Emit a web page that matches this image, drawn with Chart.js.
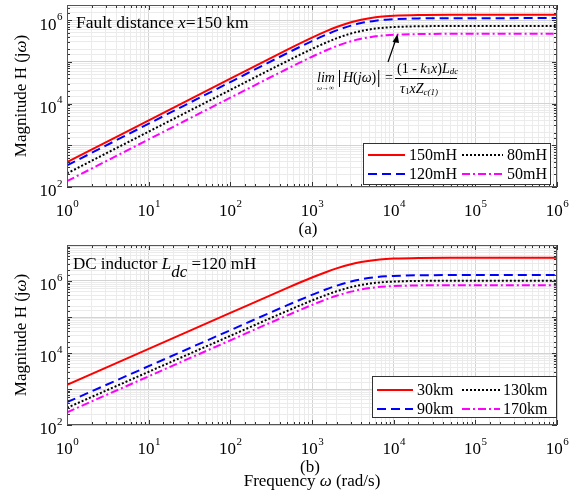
<!DOCTYPE html>
<html>
<head>
<meta charset="utf-8">
<script src="https://cdn.jsdelivr.net/npm/chart.js@4.4.0/dist/chart.umd.min.js"></script>
<style>
  body { margin: 0; background: #fff; }
  #wrap { position: relative; width: 581px; height: 495px; }
  canvas { position: absolute; left: 0; }
  #chartA { top: 0; }
  #chartB { top: 240px; }
</style>
</head>
<body>
<div id="wrap">
  <canvas id="chartA" width="581" height="240"></canvas>
  <canvas id="chartB" width="581" height="255"></canvas>
</div>
<script>
// frequency samples (rad/s)
const freq = [1, 100, 500, 1000, 1500, 2000, 3000, 4000, 6000, 8000, 10000, 20000, 50000, 1000000];

// (a) fault distance x = 150 km, varying DC inductor
const labelsA = ['150mH', '120mH', '80mH', '50mH'];
const h150mH = [395, 39480, 195400, 379000, 542000, 681000, 889000, 1023000, 1168000, 1236000, 1272000, 1324000, 1340000, 1343000];
const h120mH = [328, 32790, 162300, 314700, 450000, 565500, 738000, 849500, 970200, 1026000, 1056000, 1099000, 1113000, 1115000];
const h80mH  = [212, 21190, 104900, 203400, 290900, 365500, 477000, 549100, 627100, 663300, 682400, 710600, 719100, 720800];
const h50mH  = [138, 13790, 68270, 132400, 189300, 237900, 310500, 357400, 408200, 431800, 444200, 462600, 468100, 469200];

// (b) DC inductor 120 mH, varying fault distance
const labelsB = ['30km', '90km', '130km', '170km'];
const h30km  = [1300, 129900, 643100, 1247000, 1784000, 2241000, 2925000, 3367000, 3845000, 4068000, 4185000, 4358000, 4410000, 4420000];
const h90km  = [430, 42980, 212700, 412500, 590000, 741300, 967500, 1114000, 1272000, 1345000, 1384000, 1441000, 1459000, 1462000];
const h130km = [300, 29990, 148400, 287800, 411600, 517200, 675000, 777000, 887400, 938700, 965700, 1006000, 1018000, 1020000];
const h170km = [225, 22490, 111300, 215900, 308700, 387900, 506300, 582800, 665600, 704000, 724300, 754200, 763200, 765000];

const xExps = [0, 1, 2, 3, 4, 5, 6];
const yExpsA = [2, 4, 6];
const yExpsB = [2, 4, 6];

const SERIF = '"Liberation Serif", "Times New Roman", serif';
Chart.defaults.font.family = SERIF;

const lineStyles = [
  { color: '#ff0000', dash: [] },
  { color: '#0000ff', dash: [9, 5] },
  { color: '#000000', dash: [2, 2] },
  { color: '#ff00ff', dash: [8, 3, 2, 3] }
];

function isDecade(v) {
  const l = Math.log10(v);
  return Math.abs(l - Math.round(l)) < 1e-9;
}

// draws "10" with a raised exponent, anchored by align
function drawPow(ctx, exp, x, y, align, dyBase, dySup) {
  ctx.font = '17px ' + SERIF;
  const wb = ctx.measureText('10').width;
  ctx.font = '11px ' + SERIF;
  const we = ctx.measureText(String(exp)).width;
  let x0 = x;
  if (align === 'center') x0 = x - (wb + we) / 2;
  if (align === 'right') x0 = x - wb - we;
  ctx.textAlign = 'left';
  ctx.textBaseline = 'middle';
  ctx.font = '17px ' + SERIF;
  ctx.fillText('10', x0, y + dyBase);
  ctx.font = '11px ' + SERIF;
  ctx.fillText(String(exp), x0 + wb + 0.5, y + dySup);
}

// sequence of text runs: [text, font, dy]
function drawRuns(ctx, runs, x, y) {
  ctx.textAlign = 'left';
  ctx.textBaseline = 'middle';
  let cx = x;
  runs.forEach(r => {
    ctx.font = r[1];
    ctx.fillText(r[0], cx, y + (r[2] || 0));
    cx += ctx.measureText(r[0]).width;
  });
  return cx;
}

const decorPlugin = {
  id: 'decor',
  afterDraw(chart, args, opts) {
    const ctx = chart.ctx;
    const a = chart.chartArea;
    const xs = chart.scales.x, ys = chart.scales.y;
    ctx.save();

    // inward tick marks on all four sides
    ctx.strokeStyle = '#333';
    ctx.lineWidth = 1;
    ctx.beginPath();
    xs.ticks.forEach(t => {
      const px = Math.round(xs.getPixelForValue(t.value)) + 0.5;
      const len = isDecade(t.value) ? 5 : 3;
      ctx.moveTo(px, a.bottom); ctx.lineTo(px, a.bottom - len);
      ctx.moveTo(px, a.top); ctx.lineTo(px, a.top + len);
    });
    ys.ticks.forEach(t => {
      const py = Math.round(ys.getPixelForValue(t.value)) + 0.5;
      const len = isDecade(t.value) ? 5 : 3;
      ctx.moveTo(a.left, py); ctx.lineTo(a.left + len, py);
      ctx.moveTo(a.right, py); ctx.lineTo(a.right - len, py);
    });
    ctx.stroke();

    // box
    ctx.strokeStyle = '#555';
    ctx.strokeRect(Math.round(a.left) + 0.5, Math.round(a.top) + 0.5, Math.round(a.width) - 1, Math.round(a.height) - 1);

    // tick labels
    ctx.fillStyle = '#000';
    xExps.forEach(e => drawPow(ctx, e, xs.getPixelForValue(Math.pow(10, e)), a.bottom + 22, 'center', 3, -5));
    opts.yExps.forEach(e => drawPow(ctx, e, a.left - 5, ys.getPixelForValue(Math.pow(10, e)), 'right', 5, -3));

    // y axis title
    ctx.save();
    ctx.translate(22, (a.top + a.bottom) / 2);
    ctx.rotate(-Math.PI / 2);
    const t1 = 'Magnitude H (j', t2 = 'ω', t3 = ')';
    ctx.font = '17px ' + SERIF;
    const w1 = ctx.measureText(t1).width, w3 = ctx.measureText(t3).width;
    ctx.font = 'italic 17px ' + SERIF;
    const w2 = ctx.measureText(t2).width;
    drawRuns(ctx, [[t1, '17px ' + SERIF], [t2, 'italic 17px ' + SERIF], [t3, '17px ' + SERIF]], -(w1 + w2 + w3) / 2, 0);
    ctx.restore();

    // panel caption and extra texts
    ctx.font = '17px ' + SERIF;
    ctx.textAlign = 'center';
    ctx.textBaseline = 'middle';
    ctx.fillText(opts.caption, opts.captionX, opts.captionY);
    drawRuns(ctx, opts.note, opts.noteX, opts.noteY);
    if (opts.extra) opts.extra(ctx);

    // legend, column-major in 2 columns
    const L = opts.legend;
    ctx.fillStyle = '#fff';
    ctx.fillRect(L.box[0], L.box[1], L.box[2] - L.box[0], L.box[3] - L.box[1]);
    ctx.strokeStyle = '#333';
    ctx.lineWidth = 1;
    ctx.strokeRect(L.box[0] + 0.5, L.box[1] + 0.5, L.box[2] - L.box[0], L.box[3] - L.box[1]);
    chart.data.datasets.forEach((ds, i) => {
      const col = Math.floor(i / 2), row = i % 2;
      const y = L.rows[row];
      ctx.strokeStyle = ds.borderColor;
      ctx.lineWidth = 2;
      ctx.setLineDash(ds.borderDash);
      ctx.beginPath();
      ctx.moveTo(L.lines[col][0], y);
      ctx.lineTo(L.lines[col][1], y);
      ctx.stroke();
      ctx.setLineDash([]);
      ctx.fillStyle = '#000';
      ctx.font = '16px ' + SERIF;
      ctx.textAlign = 'left';
      ctx.textBaseline = 'middle';
      ctx.fillText(ds.label, L.texts[col], y + 1);
    });
    ctx.restore();
  }
};

function makeChart(id, series, labels, yMax, padBottom, decor) {
  return new Chart(document.getElementById(id), {
    type: 'line',
    data: {
      datasets: series.map((vals, i) => ({
        label: labels[i],
        data: freq.map((f, j) => ({ x: f, y: vals[j] })),
        borderColor: lineStyles[i].color,
        borderDash: lineStyles[i].dash,
        borderWidth: 2,
        pointRadius: 0,
        fill: false,
        cubicInterpolationMode: 'monotone'
      }))
    },
    options: {
      responsive: false,
      animation: false,
      layout: { padding: { left: 67, right: 24, top: 5, bottom: padBottom } },
      plugins: { legend: { display: false }, tooltip: { enabled: false }, decor: decor },
      scales: {
        x: {
          type: 'logarithmic', min: 1, max: 1e6,
          grid: { drawTicks: false, color: c => isDecade(c.tick.value) ? '#d3d3d3' : '#ebebeb' },
          border: { display: false },
          ticks: { display: false, autoSkip: false },
          afterFit: s => { s.height = 0; }
        },
        y: {
          type: 'logarithmic', min: 100, max: yMax,
          grid: { drawTicks: false, color: c => isDecade(c.tick.value) ? '#d3d3d3' : '#ebebeb' },
          border: { display: false },
          ticks: { display: false, autoSkip: false },
          afterFit: s => { s.width = 0; }
        }
      }
    },
    plugins: [decorPlugin]
  });
}

const italic14 = 'italic 14px ' + SERIF;
const roman14 = '14px ' + SERIF;

function drawLimit(ctx) {
  // arrow pointing at the 50mH plateau
  ctx.strokeStyle = '#000';
  ctx.fillStyle = '#000';
  ctx.lineWidth = 1.2;
  ctx.beginPath();
  ctx.moveTo(388, 62);
  ctx.lineTo(396, 39);
  ctx.stroke();
  ctx.beginPath();
  ctx.moveTo(397.5, 34);
  ctx.lineTo(392.5, 42);
  ctx.lineTo(399, 43);
  ctx.closePath();
  ctx.fill();

  ctx.fillStyle = '#000';
  drawRuns(ctx, [['lim', italic14]], 317, 78);
  drawRuns(ctx, [['ω→∞', 'italic 7px ' + SERIF]], 317, 88);
  // |H(jω)|
  ctx.fillRect(339, 70, 1, 17);
  let x = drawRuns(ctx, [['H', italic14], ['(', roman14], ['jω', italic14], [')', roman14]], 343, 78);
  ctx.fillRect(x + 2, 70, 1, 17);
  drawRuns(ctx, [['=', roman14]], 385, 78);
  // fraction
  ctx.fillRect(395, 78, 62, 1);
  drawRuns(ctx, [['(1 - ', roman14], ['k', italic14], ['1', '9px ' + SERIF, 3], ['x', italic14], [')', roman14], ['L', italic14], ['dc', 'italic 9px ' + SERIF, 3]], 397, 69);
  drawRuns(ctx, [['τ', italic14], ['1', '9px ' + SERIF, 3], ['x', italic14], ['Z', italic14], ['c(1)', 'italic 9px ' + SERIF, 4]], 400, 89);
}

makeChart('chartA', [h150mH, h120mH, h80mH, h50mH], labelsA, 2.3e6, 53, {
  yExps: yExpsA,
  caption: '(a)', captionX: 308, captionY: 230,
  note: [['Fault distance ', '17.5px ' + SERIF], ['x', 'italic 17.5px ' + SERIF], ['=150 km', '17.5px ' + SERIF]],
  noteX: 76, noteY: 23,
  extra: drawLimit,
  legend: { box: [363, 143, 550, 184], rows: [155, 174], lines: [[368, 405], [462, 503]], texts: [409, 507] }
});

makeChart('chartB', [h30km, h90km, h130km, h170km], labelsB, 1e7, 70, {
  yExps: yExpsB,
  caption: '(b)', captionX: 310, captionY: 228,
  note: [['DC inductor ', '17px ' + SERIF], ['L', 'italic 17px ' + SERIF], ['dc', 'italic 17px ' + SERIF, 8], [' =120 mH', '17px ' + SERIF]],
  noteX: 73, noteY: 25,
  extra: ctx => {
    const runs = [['Frequency ', '17px ' + SERIF], ['ω', 'italic 17px ' + SERIF], [' (rad/s)', '17px ' + SERIF]];
    let w = 0;
    runs.forEach(r => { ctx.font = r[1]; w += ctx.measureText(r[0]).width; });
    drawRuns(ctx, runs, 312 - w / 2, 242);
  },
  legend: { box: [372, 136, 556, 177], rows: [150, 169], lines: [[377, 413], [462, 500]], texts: [417, 503] }
});
</script>
</body>
</html>
